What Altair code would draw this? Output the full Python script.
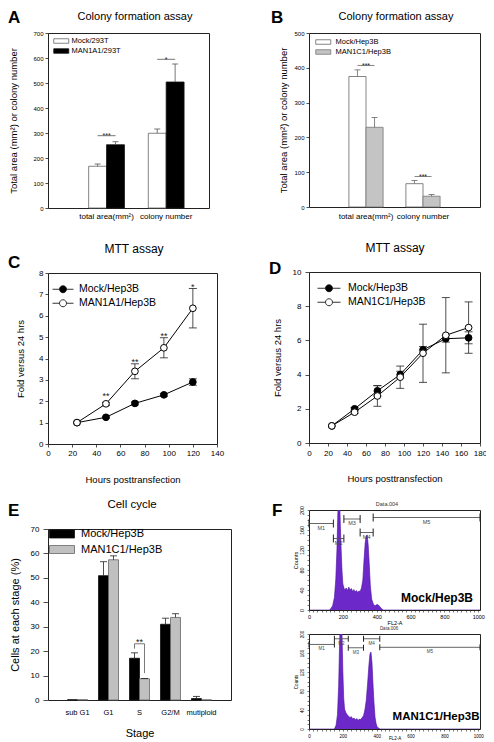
import altair as alt
import pandas as pd

FONT = "Liberation Sans"
INK = "#222222"
PURPLE = "#6d28c9"
PURPLE_EDGE = "#4a0fa0"

# ---------------- A: colony formation (293T) ----------------
A_GROUPS = ["total area(mm²)", "colony number"]
A_SERIES = ["Mock/293T", "MAN1A1/293T"]
A_MOCK = [167, 299]
A_MOCK_ERR = [9, 17]
A_MAN = [253, 504]
A_MAN_ERR = [12, 72]
A_SIG_Y = [289, 595]
A_SIG_TEXT = ["***", "*"]
A_YTICKS = [0, 100, 200, 300, 400, 500, 600, 700]

# ---------------- B: colony formation (Hep3B) ----------------
B_GROUPS = ["total area(mm²)", "colony number"]
B_SERIES = ["Mock/Hep3B", "MAN1C1/Hep3B"]
B_MOCK = [375, 67]
B_MOCK_ERR = [19, 9]
B_MAN = [229, 31]
B_MAN_ERR = [28, 5]
B_SIG_Y = [407, 88]
B_SIG_TEXT = ["***", "***"]
B_YTICKS = [0, 100, 200, 300, 400, 500]

# ---------------- C: MTT assay (MAN1A1) ----------------
C_HOURS = [24, 48, 72, 96, 120]
C_SERIES = ["Mock/Hep3B", "MAN1A1/Hep3B"]
C_MOCK = [1.0, 1.25, 1.9, 2.3, 2.9]
C_MOCK_ERR = [0, 0.05, 0.07, 0.07, 0.15]
C_MAN = [1.0, 1.88, 3.4, 4.5, 6.35]
C_MAN_ERR = [0, 0.07, 0.35, 0.47, 0.92]
C_SIG_HOURS = [48, 72, 96, 120]
C_SIG_Y = [2.35, 3.95, 5.15, 7.45]
C_SIG_TEXT = ["**", "**", "**", "*"]
C_XTICKS = [0, 20, 40, 60, 80, 100, 120, 140]
C_YTICKS = [0, 1, 2, 3, 4, 5, 6, 7, 8]

# ---------------- D: MTT assay (MAN1C1) ----------------
D_HOURS = [24, 48, 72, 96, 120, 144, 168]
D_SERIES = ["Mock/Hep3B", "MAN1C1/Hep3B"]
D_MOCK = [1.0, 2.0, 3.05, 4.0, 5.45, 6.1, 6.15]
D_MOCK_ERR = [0, 0.08, 0.3, 0.2, 0.2, 0.2, 0.35]
D_MAN = [1.0, 1.8, 2.75, 3.85, 5.25, 6.3, 6.75]
D_MAN_ERR = [0, 0.08, 0.6, 0.65, 1.7, 2.2, 1.5]
D_XTICKS = [0, 20, 40, 60, 80, 100, 120, 140, 160, 180]
D_YTICKS = [0, 2, 4, 6, 8, 10]

# ---------------- E: cell cycle ----------------
E_STAGES = ["sub G1", "G1", "S", "G2/M", "mutiploid"]
E_SERIES = ["Mock/Hep3B", "MAN1C1/Hep3B"]
E_MOCK = [0.1, 50.9, 17.1, 31.0, 0.6]
E_MOCK_ERR = [0, 5.7, 2.2, 2.5, 0.9]
E_MAN = [0.1, 57.4, 8.7, 33.8, 0.05]
E_MAN_ERR = [0, 1.6, 0.1, 1.5, 0]
E_YTICKS = [0, 10, 20, 30, 40, 50, 60, 70]
E_SIG_STAGE = "S"
E_BRACKET_LOW = [21, 11]
E_BRACKET_TOP = 23
E_SIG_Y = 24.6
E_SIG_TEXT = "**"

# ---------------- F: flow cytometry histograms ----------------
F1_X = [0, 120, 130, 140, 150, 158, 165, 170, 175, 180, 185, 190, 195, 200, 205, 210, 220, 228,
        235, 242, 250, 258, 265, 272, 280, 288, 295, 302, 310, 318, 325, 332, 338, 344, 350, 356,
        362, 370, 380, 390, 400, 410, 420, 430, 440, 1010]
F1_COUNTS = [0, 0, 3, 9, 25, 60, 120, 190, 235, 235, 170, 120, 78, 52, 46, 40, 44, 39,
             46, 40, 43, 37, 41, 36, 39, 35, 38, 37, 44, 60, 100, 135, 148, 150, 128, 90,
             50, 22, 12, 8, 11, 10, 6, 2, 0, 0]
F1_GATES = ["M1", "M2", "M3", "M4", "M5"]
F1_GATE_START = [0, 144, 206, 302, 379]
F1_GATE_END = [144, 206, 302, 379, 1010]
F1_GATE_Y = [173, 143, 182, 155, 185]

F2_X = [0, 150, 160, 168, 175, 180, 185, 190, 195, 200, 205, 210, 218, 226, 234, 242, 250, 258,
        266, 274, 282, 290, 298, 306, 314, 322, 330, 338, 346, 354, 360, 366, 372, 378, 384, 390,
        396, 402, 410, 420, 1010]
F2_COUNTS = [0, 0, 8, 30, 90, 170, 235, 235, 200, 120, 65, 42, 34, 30, 27, 24, 26, 21,
             23, 19, 22, 18, 21, 20, 24, 28, 40, 60, 95, 135, 158, 162, 140, 95, 55, 25,
             12, 5, 2, 0, 0]
F2_GATES = ["M1", "M2", "M3", "M4", "M5"]
F2_GATE_START = [0, 150, 232, 322, 418]
F2_GATE_END = [150, 232, 322, 418, 1010]
F2_GATE_Y = [178, 190, 171, 190, 172]
F_XTICKS = list(range(0, 1001, 25))
F_YTICKS = list(range(0, 201, 10))


# ---------------- helpers ----------------
def txt(text, x, y, size, weight="normal", align="left", baseline="top", color="black"):
    return (
        alt.Chart(pd.DataFrame({"t": [text]}))
        .mark_text(align=align, baseline=baseline, fontSize=size, fontWeight=weight,
                   color=color, font=FONT)
        .encode(text="t:N", x=alt.value(x), y=alt.value(y))
    )


def make_legend(kind, left, label_x, center_y, wid, hgt, n, fs, rp, sc):
    a = round(wid / n, 3)
    if kind == "rect":
        b = round(hgt / n, 3)
        path = f"M-{a},-{b}H{a}V{b}H-{a}Z"
    else:
        r = round(hgt / n, 3)
        path = f"M-{a},0H-{r}M{r},0H{a}M-{r},0A{r},{r},0,1,0,{r},0A{r},{r},0,1,0,-{r},0Z"
    lx = left + wid / 2 - n / 2
    lo = label_x - lx - n
    ly = center_y - max(n, fs) / 2
    return alt.Legend(title=None, orient="none", legendX=lx, legendY=ly, symbolType=path,
                      symbolSize=n * n, symbolStrokeColor=sc, symbolStrokeWidth=0.8,
                      labelFontSize=fs, labelOffset=lo, rowPadding=rp, padding=0,
                      labelFont=FONT, labelColor="black", labelLimit=300)


def y_axis(p, h):
    return alt.Axis(values=p["yticks"], title=p["ytitle"], labelFontSize=p["ylfs"],
                    tickSize=p["tick"], labelPadding=p["ypad"], titleFontSize=p["ytfs"],
                    titleX=p["ytx"], titleY=h / 2, titleAngle=270, titleBaseline="top",
                    titleAlign="center", tickWidth=0.8, labelFont=FONT, titleFont=FONT,
                    titleFontWeight="normal", labelColor="black", tickColor=INK)


def bar_panel(p, extra=None):
    groups, series = p["groups"], p["series"]
    w, h = p["w"], p["h"]
    rows = []
    for s, vals, errs in ((series[0], p["mock"], p["mock_err"]), (series[1], p["man"], p["man_err"])):
        for grp, v, e in zip(groups, vals, errs):
            rows.append({"group": grp, "series": s, "value": v, "err": e, "hi": v + e})
    df = pd.DataFrame(rows)

    xkw = dict(title=p.get("xtitle"), labelAngle=0, ticks=False, tickSize=0,
               labelFontSize=p["xlfs"], labelPadding=p["xpad"], labelFont=FONT,
               labelColor="black", titleFont=FONT, titleFontWeight="normal")
    if p.get("xtitle"):
        xkw.update(titleFontSize=p["xtfs"], titleY=p["xty"], titleBaseline="top")
    xaxis = alt.Axis(**xkw)
    xscale = alt.Scale(type="band", domain=groups, paddingInner=p["band"][0],
                       paddingOuter=p["band"][1], align=p["band"][2])
    X = alt.X("group:N", scale=xscale, axis=xaxis)
    XO = alt.XOffset("series:N", scale=alt.Scale(domain=series, paddingInner=0, paddingOuter=0))
    yscale = alt.Scale(domain=[0, p["ymax"]], nice=False)
    yaxis = y_axis(p, h)

    def Y(field):
        return alt.Y(f"{field}:Q", scale=yscale, axis=yaxis)

    bars = alt.Chart(df).mark_bar(strokeWidth=0.8).encode(
        x=X, xOffset=XO, y=Y("value"),
        fill=alt.Fill("series:N", scale=alt.Scale(domain=series, range=p["fills"]), legend=p["leg"]),
        stroke=alt.Stroke("series:N", scale=alt.Scale(domain=series, range=p["strokes"]), legend=None),
    )
    errs = alt.Chart(df).transform_filter("datum.err > 0").mark_rule(
        color=p["errc"], strokeWidth=0.8).encode(x=X, xOffset=XO, y=Y("value"), y2="hi:Q")
    caps = alt.Chart(df).transform_filter("datum.err > 0").mark_tick(
        orient="horizontal", size=p["cap"], thickness=0.8, color=p["errc"], opacity=1).encode(
        x=X, xOffset=XO, y=Y("hi"))
    layers = [bars, errs, caps]
    if p.get("sig_y"):
        sig = pd.DataFrame({"group": groups, "sy": p["sig_y"], "label": p["sig_text"]})
        layers.append(alt.Chart(sig).mark_tick(orient="horizontal", size=p["sig_len"], thickness=0.8,
                                               color=p["errc"], opacity=1).encode(x=X, y=Y("sy")))
        layers.append(alt.Chart(sig).mark_text(fontSize=p["sig_fs"], baseline="alphabetic",
                                               dy=p["sig_dy"], color=INK, font=FONT).encode(
            x=X, y=Y("sy"), text="label:N"))
    if extra:
        layers += extra(X, XO, Y)
    layers.append(txt(p["letter"], p["lx"], p["ly"], 17, "bold"))
    layers.append(txt(p["title"], p["tx"], p["ty"], p["tfs"], align="center"))
    return alt.layer(*layers).properties(width=w, height=h)


def line_panel(p):
    series = p["series"]
    w, h = p["w"], p["h"]
    rows = []
    for s, vals, errs in ((series[0], p["mock"], p["mock_err"]), (series[1], p["man"], p["man_err"])):
        for hr, v, e in zip(p["hours"], vals, errs):
            rows.append({"hour": hr, "series": s, "value": v, "err": e, "lo": v - e, "hi": v + e})
    df = pd.DataFrame(rows)
    xaxis = alt.Axis(values=p["xticks"], title="Hours posttransfection", labelFontSize=p["xlfs"],
                     tickSize=p["xtick"], labelPadding=p["xpad"], titleFontSize=p["xtfs"],
                     titleY=p["xty"], titleBaseline="top", tickWidth=0.8, labelFont=FONT,
                     titleFont=FONT, titleFontWeight="normal", labelColor="black", tickColor=INK,
                     labelFlush=False)
    xscale = alt.Scale(domain=[0, p["xmax"]], nice=False)
    yscale = alt.Scale(domain=[0, p["ymax"]], nice=False)
    yaxis = y_axis(p, h)
    X = alt.X("hour:Q", scale=xscale, axis=xaxis)

    def Y(field):
        return alt.Y(f"{field}:Q", scale=yscale, axis=yaxis)

    line = alt.Chart(df).mark_line(color="black", strokeWidth=1).encode(x=X, y=Y("value"), detail="series:N")
    errdf = alt.Chart(df).transform_filter("datum.err > 0")
    errs = errdf.mark_rule(color=INK, strokeWidth=0.8).encode(x=X, y=Y("lo"), y2="hi:Q")
    caplo = errdf.mark_tick(orient="horizontal", size=p["cap"], thickness=0.8, color=INK, opacity=1).encode(x=X, y=Y("lo"))
    caphi = errdf.mark_tick(orient="horizontal", size=p["cap"], thickness=0.8, color=INK, opacity=1).encode(x=X, y=Y("hi"))
    pts = alt.Chart(df).mark_point(size=p["pt"], filled=True, stroke="black", strokeWidth=1,
                                   opacity=1).encode(
        x=X, y=Y("value"),
        fill=alt.Fill("series:N", scale=alt.Scale(domain=series, range=["black", "white"]),
                      legend=p["leg"]),
    )
    layers = [line, errs, caplo, caphi, pts]
    if p.get("sig_hours"):
        sig = pd.DataFrame({"hour": p["sig_hours"], "sy": p["sig_y"], "label": p["sig_text"]})
        layers.append(alt.Chart(sig).mark_text(fontSize=9, baseline="middle", dy=2, color=INK,
                                               font=FONT).encode(x=X, y=Y("sy"), text="label:N"))
    layers.append(txt(p["letter"], p["lx"], p["ly"], 17, "bold"))
    layers.append(txt(p["title"], p["tx"], p["ty"], p["tfs"], align="center"))
    return alt.layer(*layers).properties(width=w, height=h)


def facs_panel(p):
    w, h = p["w"], p["h"]
    hist = pd.DataFrame({"fl2": p["x"], "cnt": p["counts"]})
    gates = pd.DataFrame({"gate": p["gates"], "gs": p["gs"], "ge": p["ge"], "gy": p["gy"]})
    fs = p["fs"]
    xaxis = alt.Axis(values=F_XTICKS, title="FL2-A", labelFontSize=fs, tickSize=2, labelPadding=2,
                     labelExpr="datum.value % 200 === 0 ? '' + datum.value : ''", labelOverlap=False,
                     titleFontSize=fs, titleY=p["xty"], titleBaseline="top", tickWidth=0.6,
                     labelFont=FONT, titleFont=FONT, titleFontWeight="normal", labelColor="black",
                     tickColor=INK, labelFlush=False)
    yaxis = alt.Axis(values=F_YTICKS, title="Counts", labelFontSize=fs, tickSize=2, labelPadding=3,
                     labelExpr="datum.value % 40 === 0 ? '' + datum.value : ''", labelOverlap=False,
                     labelAngle=270, labelAlign="center", labelBaseline="bottom",
                     titleFontSize=fs, titleX=-16, titleY=h / 2, titleAngle=270,
                     titleBaseline="top", titleAlign="center", tickWidth=0.6, labelFont=FONT,
                     titleFont=FONT, titleFontWeight="normal", labelColor="black", tickColor=INK,
                     labelFlush=False)
    xscale = alt.Scale(domain=[0, 1010], nice=False, zero=False)
    yscale = alt.Scale(domain=[0, 200], nice=False)

    def X(f):
        return alt.X(f"{f}:Q", scale=xscale, axis=xaxis)

    def Y(f):
        return alt.Y(f"{f}:Q", scale=yscale, axis=yaxis)

    area = alt.Chart(hist).mark_area(color=PURPLE, clip=True, opacity=1).encode(x=X("fl2"), y=Y("cnt"))
    edge = alt.Chart(hist).mark_line(color=PURPLE_EDGE, strokeWidth=0.6, clip=True).encode(x=X("fl2"), y=Y("cnt"))
    gl = alt.Chart(gates).mark_rule(color="#555", strokeWidth=0.9).encode(x=X("gs"), x2="ge:Q", y=Y("gy"))
    c1 = alt.Chart(gates).mark_tick(orient="vertical", size=p["cap"], thickness=1, color=INK,
                                    opacity=1).encode(x=X("gs"), y=Y("gy"))
    c2 = alt.Chart(gates).mark_tick(orient="vertical", size=p["cap"], thickness=1, color=INK,
                                    opacity=1, clip=True).encode(x=X("ge"), y=Y("gy"))
    lab = alt.Chart(gates).transform_calculate(mid="(datum.gs + datum.ge) / 2").mark_text(
        fontSize=p["gfs"], baseline="top", dy=2, color="#444", font=FONT).encode(
        x=X("mid"), y=Y("gy"), text="gate:N")
    layers = [area, edge, gl, c1, c2, lab,
              txt(p["data"], p["dx"], -3, p["dfs"], align="center", baseline="bottom", color="#333"),
              txt(p["sample"], p["sx"], p["sy"], p["sfs"], weight="bold", align="center",
                  baseline="alphabetic")]
    if p.get("letter"):
        layers.append(txt(p["letter"], p["lx"], p["ly"], 17, "bold"))
    return alt.layer(*layers).properties(width=w, height=h)


def spacer(h):
    return alt.Chart(pd.DataFrame({"t": [""]})).mark_text().encode(text="t:N").properties(
        width=1, height=h, view=alt.ViewBackground(stroke="transparent"))


def resolved(c):
    return c.resolve_scale(x="independent", y="independent", fill="independent",
                           stroke="independent", xOffset="independent").resolve_legend(
        fill="independent").resolve_axis(x="independent", y="independent")


# ---------------- panels ----------------
chart_a = bar_panel(dict(
    groups=A_GROUPS, series=A_SERIES, mock=A_MOCK, mock_err=A_MOCK_ERR, man=A_MAN, man_err=A_MAN_ERR,
    w=161, h=175, band=(0.40, 0.55, 0.62), ymax=700, yticks=A_YTICKS,
    ytitle="Total area (mm²) or colony number", ytfs=9.5, ytx=-40, ylfs=6, tick=3, ypad=2,
    xlfs=8, xpad=4, fills=["white", "black"], strokes=["#666", "#111"], errc="#555", cap=6,
    sig_y=A_SIG_Y, sig_text=A_SIG_TEXT, sig_len=18, sig_fs=7, sig_dy=2.5,
    leg=make_legend("rect", 5, 22, 8, 15, 4.5, 6, 7.5, 1, "#555"),
    letter="A", lx=-40, ly=-23, title="Colony formation assay", tx=87, ty=-22, tfs=11))

chart_b = bar_panel(dict(
    groups=B_GROUPS, series=B_SERIES, mock=B_MOCK, mock_err=B_MOCK_ERR, man=B_MAN, man_err=B_MAN_ERR,
    w=171, h=174, band=(0.40, 0.70, 0.5), ymax=500, yticks=B_YTICKS,
    ytitle="Total area (mm²) or colony number", ytfs=9.5, ytx=-31, ylfs=6, tick=3, ypad=2,
    xlfs=8, xpad=5, fills=["white", "#c4c4c4"], strokes=["#666", "#777"], errc="#666", cap=6,
    sig_y=B_SIG_Y, sig_text=B_SIG_TEXT, sig_len=17, sig_fs=7, sig_dy=2.5,
    leg=make_legend("rect", 6, 25, 9, 15, 4.5, 6, 7.5, 1, "#555"),
    letter="B", lx=-38, ly=-23, title="Colony formation assay", tx=87, ty=-22, tfs=11))

chart_c = line_panel(dict(
    hours=C_HOURS, series=C_SERIES, mock=C_MOCK, mock_err=C_MOCK_ERR, man=C_MAN, man_err=C_MAN_ERR,
    w=169, h=171, xmax=140, xticks=C_XTICKS, ymax=8, yticks=C_YTICKS,
    ytitle="Fold versus 24 hrs", ytfs=9.5, ytx=-33, ylfs=8, tick=3, ypad=2,
    xlfs=8, xtick=3, xpad=2, xtfs=9.5, xty=30, cap=8, pt=45,
    sig_hours=C_SIG_HOURS, sig_y=C_SIG_Y, sig_text=C_SIG_TEXT,
    leg=make_legend("dot", 4, 30, 16, 21, 7, 10, 10.5, 3, "black"),
    letter="C", lx=-40, ly=-18, title="MTT assay", tx=86, ty=-29, tfs=12))

chart_d = line_panel(dict(
    hours=D_HOURS, series=D_SERIES, mock=D_MOCK, mock_err=D_MOCK_ERR, man=D_MAN, man_err=D_MAN_ERR,
    w=171, h=171, xmax=180, xticks=D_XTICKS, ymax=10, yticks=D_YTICKS,
    ytitle="Fold versus 24 hrs", ytfs=9.5, ytx=-37, ylfs=8, tick=4, ypad=4,
    xlfs=8, xtick=3, xpad=3, xtfs=9.5, xty=30, cap=8, pt=45,
    leg=make_legend("dot", 8, 38, 16, 23, 7, 10, 10.5, 3, "black"),
    letter="D", lx=-40, ly=-11, title="MTT assay", tx=86, ty=-29, tfs=12))


def e_extra(X, XO, Y):
    br = pd.DataFrame({"group": [E_SIG_STAGE, E_SIG_STAGE], "series": E_SERIES,
                       "blo": E_BRACKET_LOW, "btop": [E_BRACKET_TOP, E_BRACKET_TOP]})
    top = pd.DataFrame({"group": [E_SIG_STAGE], "btop": [E_BRACKET_TOP], "sy": [E_SIG_Y],
                        "label": [E_SIG_TEXT]})
    return [
        alt.Chart(br).mark_rule(color="#555", strokeWidth=0.8).encode(x=X, xOffset=XO, y=Y("blo"), y2="btop:Q"),
        alt.Chart(top).mark_tick(orient="horizontal", size=10, thickness=0.8, color="#555",
                                 opacity=1).encode(x=X, y=Y("btop")),
        alt.Chart(top).mark_text(fontSize=9, baseline="middle", dy=2, color=INK, font=FONT).encode(
            x=X, y=Y("sy"), text="label:N"),
    ]


chart_e = bar_panel(dict(
    groups=E_STAGES, series=E_SERIES, mock=E_MOCK, mock_err=E_MOCK_ERR, man=E_MAN, man_err=E_MAN_ERR,
    w=183, h=171, band=(0.355, 0.63, 0.5), ymax=70, yticks=E_YTICKS,
    ytitle="Cells at each stage (%)", ytfs=11, ytx=-39, ylfs=8, tick=5, ypad=4,
    xlfs=7.5, xpad=8, xtitle="Stage", xtfs=11, xty=27,
    fills=["black", "#c0c0c0"], strokes=["#111", "#666"], errc=INK, cap=7,
    leg=make_legend("rect", 1, 32, 5, 25, 8, 10, 11, 2.5, "#555"),
    letter="E", lx=-40, ly=-26, title="Cell cycle", tx=84, ty=-30, tfs=11.5), extra=e_extra)

chart_f1 = facs_panel(dict(
    x=F1_X, counts=F1_COUNTS, gates=F1_GATES, gs=F1_GATE_START, ge=F1_GATE_END, gy=F1_GATE_Y,
    w=171, h=100, fs=5.5, xty=10, cap=8, gfs=5.5, data="Data.004", dx=78, dfs=5.5,
    sample="Mock/Hep3B", sx=128, sy=92, sfs=12, letter="F", lx=-37, ly=-7))

chart_f2 = facs_panel(dict(
    x=F2_X, counts=F2_COUNTS, gates=F2_GATES, gs=F2_GATE_START, ge=F2_GATE_END, gy=F2_GATE_Y,
    w=171, h=95, fs=4.5, xty=6.5, cap=6, gfs=4.5, data="Data.006", dx=80, dfs=4.5,
    sample="MAN1C1/Hep3B", sx=127, sy=86, sfs=11.5))

left = resolved(alt.vconcat(chart_a, spacer(65), chart_c, spacer(85), chart_e,
                            spacing=0, bounds="flush"))
right = resolved(alt.vconcat(chart_b, spacer(65), chart_d, spacer(67), chart_f1, spacer(24),
                             chart_f2, spacing=0, bounds="flush"))
chart = resolved(alt.hconcat(left, right, spacing=36, bounds="full"))

chart = chart.properties(
    autosize=alt.AutoSizeParams(type="none"),
    padding={"left": 40, "top": 25, "right": 438, "bottom": 717},
).configure(font=FONT).configure_view(stroke=INK, strokeWidth=1).configure_axis(grid=False, domain=False)

chart.save("out.html", embed_options={"renderer": "svg", "actions": False})
